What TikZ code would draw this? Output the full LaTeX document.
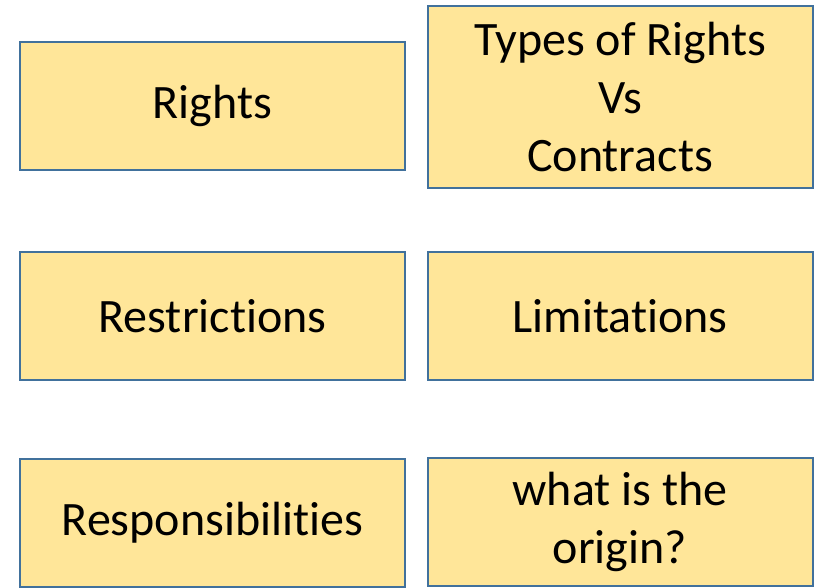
\documentclass[tikz,border=0pt]{standalone}
\usepackage{fontspec}
\setmainfont[Ligatures=NoCommon]{Carlito}
\usepackage{tikz}
\usetikzlibrary{positioning}
\definecolor{boxfill}{HTML}{FFE699}
\definecolor{boxline}{HTML}{41719C}
\tikzstyle{yellowbox} = [rectangle, minimum width=385pt, minimum height=128pt, draw=boxline, line width=2pt, fill=boxfill, align=center, font=\fontsize{48}{58}\selectfont, inner sep=0pt]

\begin{document}
\begin{tikzpicture}[x=1pt, y=-1pt]
      \useasboundingbox (0,0) rectangle (818,587);
      \node (rights) [yellowbox] at (212.5,106) {Rights};
      \node (types) [yellowbox, minimum height=182pt] at (620,97) {Types of Rights\\Vs\\Contracts};
      \node (restr) [yellowbox] at (212.5,316) {Restrictions};
      \node (limits) [yellowbox] at (620,316) {Limitations};
      \node (resp) [yellowbox] at (212.5,522.5) {Responsibilities};
      \node (origin) [yellowbox] at (620,521.5) {what is the\\origin?};
    \end{tikzpicture}
\end{document}
